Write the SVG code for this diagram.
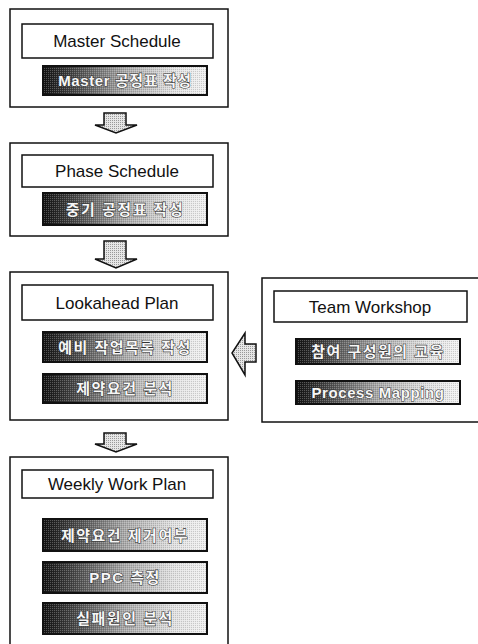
<svg xmlns="http://www.w3.org/2000/svg" width="478" height="644" viewBox="0 0 478 644">
<defs>
<linearGradient id="g" x1="0" y1="0" x2="1" y2="0">
<stop offset="0" stop-color="#111"/>
<stop offset="0.18" stop-color="#444"/>
<stop offset="0.5" stop-color="#aaa"/>
<stop offset="0.8" stop-color="#e2e2e2"/>
<stop offset="1" stop-color="#f2f2f2"/>
</linearGradient>
<pattern id="dots" width="2" height="2" patternUnits="userSpaceOnUse">
<rect x="0" y="0" width="1" height="1" fill="#fff" fill-opacity="0.25"/>
<rect x="1" y="1" width="1" height="1" fill="#000" fill-opacity="0.15"/>
</pattern>
<pattern id="adots" width="2" height="2" patternUnits="userSpaceOnUse">
<rect width="2" height="2" fill="#e6e6e6"/>
<rect x="0" y="0" width="1" height="1" fill="#999"/>
</pattern>
</defs>
<style>
.outer{fill:#fff;stroke:#111;stroke-width:1.5}
.title{fill:#fff;stroke:#111;stroke-width:1.5}
.sub{fill:url(#g);stroke:#111;stroke-width:2}
.tex{fill:url(#dots);stroke:none}
.arrow{fill:url(#adots);stroke:#111;stroke-width:1.5;stroke-linejoin:miter}
.tt{font-family:"Liberation Sans",Arial,sans-serif;font-size:17px;fill:#111;text-anchor:middle}
.st{font-family:"Liberation Sans","Noto Sans CJK KR",sans-serif;font-size:15px;fill:#f6f6f6;stroke:#333;stroke-width:1.1;paint-order:stroke;text-anchor:middle;font-weight:bold;letter-spacing:0.6px}
.ko{letter-spacing:1.5px}
</style>

<g id="master">
<rect class="outer" x="10" y="9" width="218" height="98"/>
<rect class="title" x="22" y="24" width="191" height="34"/>
<text class="tt" x="117" y="47">Master Schedule</text>
<rect class="sub" x="43" y="66" width="164" height="29"/>
<rect class="tex" x="44" y="67" width="162" height="27"/>
<text class="st" x="125" y="86">Master 공정표 작성</text>
</g>

<g id="phase">
<rect class="outer" x="10" y="143" width="218" height="93"/>
<rect class="title" x="22" y="155" width="191" height="32"/>
<text class="tt" x="117" y="177">Phase Schedule</text>
<rect class="sub" x="43" y="193" width="164" height="32"/>
<rect class="tex" x="44" y="194" width="162" height="30"/>
<text class="st ko" x="125" y="215">중기 공정표 작성</text>
</g>

<g id="lookahead">
<rect class="outer" x="10" y="272" width="218" height="148"/>
<rect class="title" x="22" y="285" width="191" height="35"/>
<text class="tt" x="117" y="309">Lookahead Plan</text>
<rect class="sub" x="43" y="332" width="164" height="30"/>
<rect class="tex" x="44" y="333" width="162" height="28"/>
<text class="st ko" x="125" y="353">예비 작업목록 작성</text>
<rect class="sub" x="43" y="374" width="164" height="29"/>
<rect class="tex" x="44" y="375" width="162" height="27"/>
<text class="st ko" x="125" y="394">제약요건 분석</text>
</g>

<g id="team">
<rect class="outer" x="262" y="278" width="220" height="144"/>
<rect class="title" x="274" y="291" width="193" height="31"/>
<text class="tt" x="370" y="313">Team Workshop</text>
<rect class="sub" x="296" y="339" width="164" height="25"/>
<rect class="tex" x="297" y="340" width="162" height="23"/>
<text class="st ko" x="378" y="357">참여 구성원의 교육</text>
<rect class="sub" x="296" y="381" width="164" height="23"/>
<rect class="tex" x="297" y="382" width="162" height="21"/>
<text class="st" x="378" y="398">Process Mapping</text>
</g>

<g id="weekly">
<rect class="outer" x="10" y="457" width="218" height="200"/>
<rect class="title" x="22" y="470" width="191" height="28"/>
<text class="tt" x="117" y="490">Weekly Work Plan</text>
<rect class="sub" x="43" y="519" width="164" height="32"/>
<rect class="tex" x="44" y="520" width="162" height="30"/>
<text class="st ko" x="125" y="541">제약요건 제거여부</text>
<rect class="sub" x="43" y="562" width="164" height="31"/>
<rect class="tex" x="44" y="563" width="162" height="29"/>
<text class="st ko" x="125" y="583">PPC 측정</text>
<rect class="sub" x="43" y="603" width="164" height="31"/>
<rect class="tex" x="44" y="604" width="162" height="29"/>
<text class="st ko" x="125" y="624">실패원인 분석</text>
</g>

<g id="connectors">
<polygon class="arrow" points="104,113 126,113 126,125 137,125 116,133 95,125 104,125"/>
<polygon class="arrow" points="104,241 126,241 126,259 137,259 116,268 95,259 104,259"/>
<polygon class="arrow" points="104,433 126,433 126,444 137,444 116,452 95,444 104,444"/>
<polygon class="arrow" points="256,344 256,362 245,362 245,375 232,353 245,333 245,344"/>
</g>
</svg>
